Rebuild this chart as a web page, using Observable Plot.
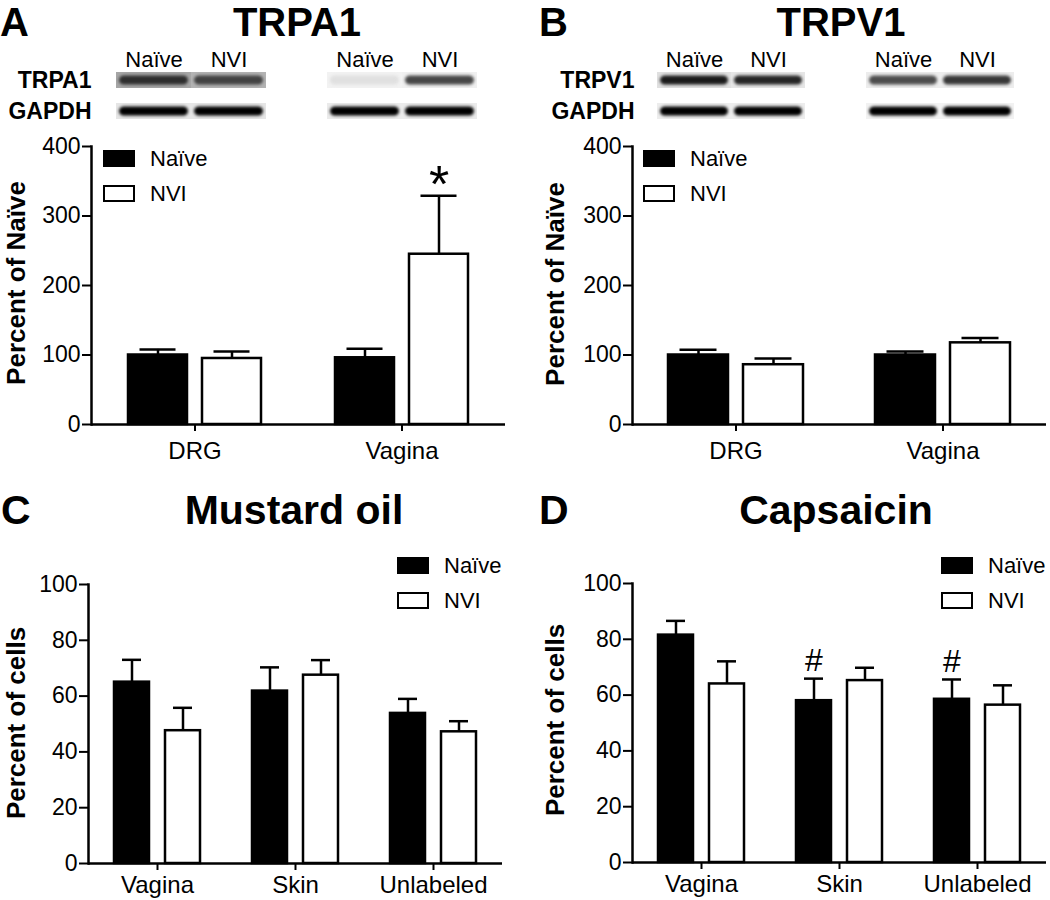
<!DOCTYPE html>
<html><head><meta charset="utf-8">
<script src="https://cdn.jsdelivr.net/npm/d3@7"></script>
<script src="https://cdn.jsdelivr.net/npm/@observablehq/plot@0.6"></script>
<style>
html,body{margin:0;padding:0;background:#fff;}
#fig{position:relative;width:1050px;height:900px;overflow:hidden;font-family:"Liberation Sans",Arial,sans-serif;color:#000;background:#fff;}
#fig svg{position:absolute;}
.t{position:absolute;white-space:nowrap;line-height:0.8;}
.lg{position:absolute;font-size:22px;line-height:1;}
.lg .row{position:absolute;left:0;display:flex;align-items:center;white-space:nowrap;}
.lg .box{width:32px;height:17px;box-sizing:border-box;border:2.5px solid #000;margin-right:15px;}
.ylab{position:absolute;font-weight:bold;font-size:26px;white-space:nowrap;line-height:0.95;transform:translate(-50%,-50%) rotate(-90deg);}
.blot [aria-label="y-axis tick label"]{font-weight:bold;}
</style>
</head><body><div id="fig"></div>
<script>
// ---------- data ----------
const groups = ["Naïve", "NVI"];
const tissues = ["DRG", "Vagina"];
const cellTypes = ["Vagina", "Skin", "Unlabeled"];

// Panel A: TRPA1 protein, percent of naïve (mean, SEM)
const trpa1Naive = [100, 96];
const trpa1NaiveSem = [8, 13];
const trpa1Nvi = [95, 245];
const trpa1NviSem = [10, 84];

// Panel B: TRPV1 protein, percent of naïve
const trpv1Naive = [100, 100];
const trpv1NaiveSem = [7.5, 5];
const trpv1Nvi = [86, 117.5];
const trpv1NviSem = [9, 7];

// Panel C: mustard oil responders, percent of cells
const moNaive = [65, 61.8, 53.8];
const moNaiveSem = [8, 8.5, 5.2];
const moNvi = [47.6, 67.5, 47.2];
const moNviSem = [8.2, 5.4, 3.8];

// Panel D: capsaicin responders, percent of cells
const capNaive = [81.5, 58, 58.5];
const capNaiveSem = [5.1, 7.9, 7.1];
const capNvi = [64, 65.2, 56.4];
const capNviSem = [8.1, 4.6, 7.1];

const ticksAB = [0, 100, 200, 300, 400];
const ticksCD = [0, 20, 40, 60, 80, 100];

// significance marks
const annotA = [{cat: "Vagina", group: "NVI", label: "*"}];
const annotD = [{cat: "Skin", group: "Naïve", label: "#"}, {cat: "Unlabeled", group: "Naïve", label: "#"}];

// western blot band densities (0 = white, 1 = black), lanes: DRG Naïve, DRG NVI, Vagina Naïve, Vagina NVI
const blotLanes = [["DRG","Naïve"],["DRG","NVI"],["Vagina","Naïve"],["Vagina","NVI"]];
const trpa1Band = [0.82, 0.74, 0.12, 0.72];
const trpa1Bg = [0.35, 0.3, 0.05, 0.06];
const gapdhABand = [1, 1, 1, 1];
const gapdhABg = [0.1, 0.1, 0.08, 0.08];
const trpv1Band = [0.9, 0.85, 0.7, 0.78];
const trpv1Bg = [0.12, 0.1, 0.07, 0.07];
const gapdhBBand = [1, 1, 1, 1];
const gapdhBBg = [0.07, 0.07, 0.05, 0.05];

// ---------- helpers ----------
const FONT = '"Liberation Sans", Arial, sans-serif';
const fig = document.getElementById("fig");

function place(el, left, top) { el.style.left = left + "px"; el.style.top = top + "px"; fig.appendChild(el); }

function text(str, x, baseline, fs, weight, anchor) {
  const d = document.createElement("div");
  d.className = "t";
  d.textContent = str;
  d.style.fontSize = fs + "px";
  d.style.fontWeight = weight;
  if (anchor === "middle") d.style.transform = "translateX(-50%)";
  place(d, x, baseline - 0.7465 * fs);
}

function ylabel(str, cx, cy) {
  const d = document.createElement("div");
  d.className = "ylab";
  d.textContent = str;
  place(d, cx, cy);
}

function legend(x, cy) {
  const d = document.createElement("div");
  d.className = "lg";
  groups.forEach((g, i) => {
    const r = document.createElement("div");
    r.className = "row";
    r.style.top = (i * 35 - 9) + "px";
    r.style.height = "18px";
    const b = document.createElement("div");
    b.className = "box";
    b.style.background = i === 0 ? "#000" : "#fff";
    const s = document.createElement("span");
    s.textContent = g;
    r.appendChild(b); r.appendChild(s);
    d.appendChild(r);
  });
  place(d, x, cy);
}

function blot(protein, band, bg, gBand, gBg, o) {
  const rows = [];
  blotLanes.forEach(([t, g], i) => {
    rows.push({tissue: t, group: g, protein, band: band[i], bg: bg[i]});
    rows.push({tissue: t, group: g, protein: "GAPDH", band: gBand[i], bg: gBg[i]});
  });
  const svg = Plot.plot({
    className: "blot",
    width: o.width, height: 92,
    marginLeft: o.marginLeft, marginRight: 0, marginTop: 32, marginBottom: 13,
    style: {fontFamily: FONT, fontSize: "22px", color: "black", background: "transparent", overflow: "visible"},
    fx: {domain: tissues, paddingInner: 0.29, paddingOuter: 0, axis: null, label: null},
    x: {domain: groups, padding: 0, label: null},
    y: {domain: [protein, "GAPDH"], paddingInner: 0.484, paddingOuter: 0, label: null},
    color: {type: "linear", domain: [0, 1], range: ["#ffffff", "#000000"]},
    marks: [
      Plot.cell(rows, {fx: "tissue", x: "group", y: "protein", fill: "bg"}),
      Plot.cell(rows, {fx: "tissue", x: "group", y: "protein", fill: "band",
        insetTop: 3.5, insetBottom: 3.5, insetLeft: 3, insetRight: 3, rx: 5, imageFilter: "blur(1.6px)"}),
      Plot.axisX({anchor: "top", tickSize: 0, tickPadding: 6, label: null, fontSize: 22}),
      Plot.axisY({anchor: "left", tickSize: 0, tickPadding: o.rowPad, label: null, fontSize: 23, fontWeight: "bold"})
    ]
  });
  place(svg, o.left, o.top);
}

function bars(cats, naive, naiveSem, nvi, nviSem, o) {
  const rows = cats.flatMap((c, i) => [
    {cat: c, group: groups[0], mean: naive[i], sem: naiveSem[i]},
    {cat: c, group: groups[1], mean: nvi[i], sem: nviSem[i]}
  ]);
  const top = (d) => d.mean + d.sem;
  const ann = (o.annot || []).map(a => ({...a, y: top(rows.find(r => r.cat === a.cat && r.group === a.group))}));
  const svg = Plot.plot({
    width: o.width, height: o.height,
    marginLeft: o.mL, marginRight: o.mR, marginTop: o.mT, marginBottom: o.mB,
    style: {fontFamily: FONT, fontSize: "24px", color: "black", background: "transparent", overflow: "visible"},
    fx: {domain: cats, padding: 0, label: null},
    x: {domain: groups, paddingInner: o.pi, paddingOuter: o.po, axis: null},
    y: {domain: [0, o.ymax], label: null},
    color: {domain: groups, range: ["black", "white"]},
    marks: [
      Plot.ruleX(rows, {fx: "cat", x: "group", y1: "mean", y2: top, strokeWidth: 2.5}),
      Plot.tickY(rows, {fx: "cat", x: "group", y: top, insetLeft: o.cap, insetRight: o.cap, strokeWidth: 2.5}),
      Plot.barY(rows, {fx: "cat", x: "group", y: "mean", fill: "group", stroke: "black", strokeWidth: 2.5}),
      Plot.text(ann, {fx: "cat", x: "group", y: "y", text: "label", fontSize: o.annSize, lineAnchor: "middle", dy: o.annDy}),
      Plot.ruleY([0], {strokeWidth: 2.5}),
      Plot.frame({anchor: "left", facetAnchor: "left", strokeWidth: 2.5}),
      Plot.axisY({ticks: o.ticks, tickSize: 9, tickPadding: 2, strokeWidth: 2, label: null, fontSize: 23}),
      Plot.axisFx({anchor: "bottom", tickSize: 7, tickPadding: o.xPad, strokeWidth: 2, label: null})
    ]
  });
  place(svg, o.left, o.top);
}

// ---------- panel A ----------
text("A", 0, 36, 40, "bold");
text("TRPA1", 297, 36, 40, "bold", "middle");
blot("TRPA1", trpa1Band, trpa1Bg, gapdhABand, gapdhABg, {left: 0, top: 40, width: 477, marginLeft: 115, rowPad: 25});
bars(tissues, trpa1Naive, trpa1NaiveSem, trpa1Nvi, trpa1NviSem,
  {left: 0, top: 130, width: 525, height: 330, mL: 90, mR: 20, mT: 16, mB: 36, pi: 0.2, po: 0.483,
   ymax: 400, ticks: ticksAB, cap: 11.5, xPad: 10.5, annot: annotA, annSize: 52, annDy: -10});
ylabel("Percent of Naïve", 15.5, 283);
legend(103, 158.5);

// ---------- panel B ----------
text("B", 539, 36, 40, "bold");
text("TRPV1", 841, 36, 40, "bold", "middle");
blot("TRPV1", trpv1Band, trpv1Bg, gapdhBBand, gapdhBBg, {left: 525, top: 40, width: 490, marginLeft: 132, rowPad: 23});
bars(tissues, trpv1Naive, trpv1NaiveSem, trpv1Nvi, trpv1NviSem,
  {left: 525, top: 130, width: 525, height: 330, mL: 107, mR: 4, mT: 16, mB: 36, pi: 0.2, po: 0.48,
   ymax: 400, ticks: ticksAB, cap: 11.5, xPad: 10.5});
ylabel("Percent of Naïve", 555, 284);
legend(643, 158.5);

// ---------- panel C ----------
text("C", 1, 525, 41, "bold");
text("Mustard oil", 294, 525, 41, "bold", "middle");
bars(cellTypes, moNaive, moNaiveSem, moNvi, moNviSem,
  {left: 0, top: 560, width: 525, height: 340, mL: 87, mR: 22, mT: 24, mB: 37, pi: 0.31, po: 0.49,
   ymax: 100, ticks: ticksCD, cap: 8, xPad: 5});
ylabel("Percent of cells", 15.5, 723);
legend(397, 565.5);

// ---------- panel D ----------
text("D", 539, 525, 41, "bold");
text("Capsaicin", 836, 525, 41, "bold", "middle");
bars(cellTypes, capNaive, capNaiveSem, capNvi, capNviSem,
  {left: 525, top: 560, width: 525, height: 340, mL: 106, mR: 3, mT: 23, mB: 38, pi: 0.31, po: 0.49,
   ymax: 100, ticks: ticksCD, cap: 8, xPad: 5, annot: annotD, annSize: 32, annDy: -18});
ylabel("Percent of cells", 555, 720);
legend(941, 565.5);
</script>
</body></html>
